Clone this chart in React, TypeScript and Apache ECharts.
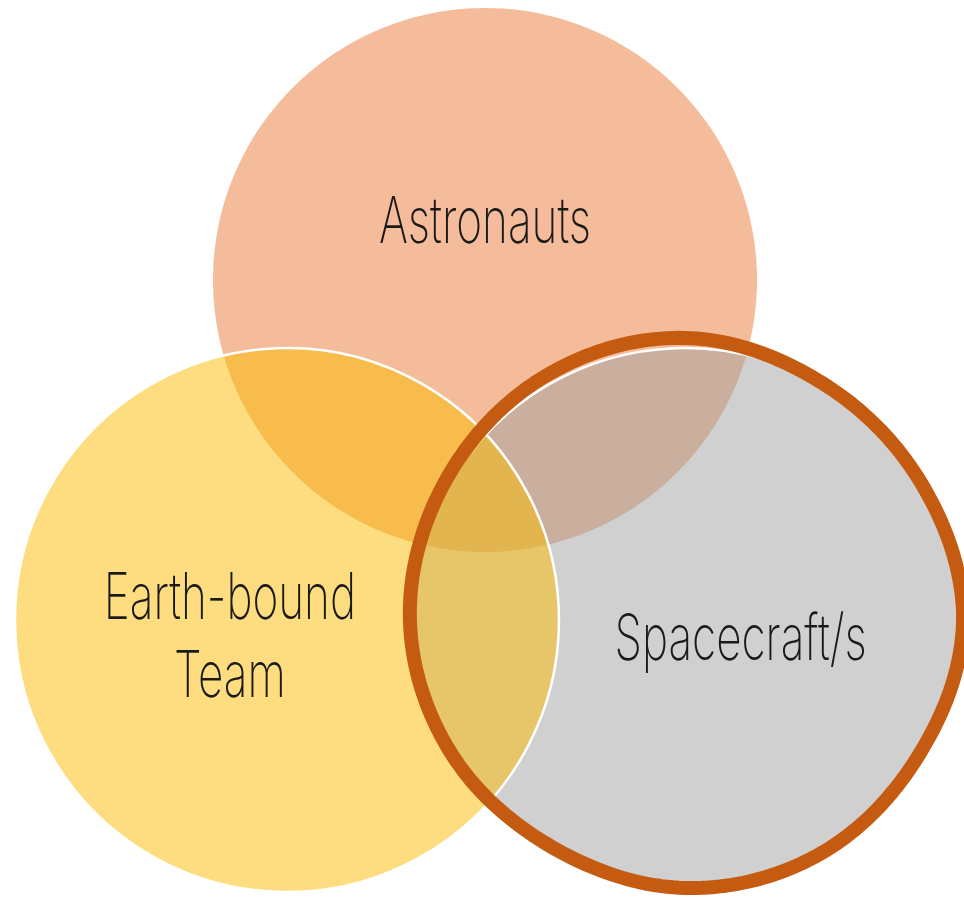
import React, { useEffect, useRef } from "react";
import * as echarts from "echarts";

// Venn sets (layout in units of one circle radius)
const setNames = ["Astronauts", "Earth-bound\nTeam", "Spacecraft/s"];
const setCenterX = [0, -0.728, 0.735];
const setCenterY = [0, 1.25, 1.25];
const setRadius = [1, 1, 1];
const setColors = ["rgba(233,121,53,0.5)", "rgba(251,187,0,0.5)", "rgba(161,161,161,0.5)"];
const setStroke = [0, 2.5, 2.5];
const drawRank = [1, 3, 2];
const labelDx = [0, -0.21, 0.205];
const labelDy = [-0.22, 0.055, 0.062];

// hand-drawn highlight around "Spacecraft/s": radius (relative to the circle) every 30°, clockwise from 3 o'clock
const highlightSet = 2;
const highlightAngles = [0, 30, 60, 90, 120, 150, 180, 210, 240, 270, 300, 330];
const highlightScale = [1.022, 0.993, 0.993, 0.985, 0.967, 0.989, 1.011, 1.018, 1.033, 1.037, 1.007, 1.004];

const W = 964;
const H = 897;
const UNIT = 272;
const ORIGIN_X = 485;
const ORIGIN_Y = 280;

function periodicSpline(vals: number[], idx: number, t: number): number {
  const n = vals.length;
  const a = vals[(idx - 1 + n) % n];
  const b = vals[idx % n];
  const c = vals[(idx + 1) % n];
  const d = vals[(idx + 2) % n];
  const t2 = t * t;
  const t3 = t2 * t;
  return 0.5 * (2 * b + (-a + c) * t + (2 * a - 5 * b + 4 * c - d) * t2 + (-a + 3 * b - 3 * c + d) * t3);
}

function highlightPoints(cx: number, cy: number, r: number): number[][] {
  const pts: number[][] = [];
  const n = highlightAngles.length;
  const steps = 24;
  for (let i = 0; i < n; i++) {
    for (let s = 0; s < steps; s++) {
      const t = s / steps;
      const ang = ((highlightAngles[i] + 30 * t) * Math.PI) / 180;
      const k = periodicSpline(highlightScale, i, t);
      pts.push([cx + r * k * Math.cos(ang), cy + r * k * Math.sin(ang)]);
    }
  }
  return pts;
}

export default function App() {
  const ref = useRef<HTMLDivElement>(null);
  useEffect(() => {
    if (!ref.current) return;
    const chart = echarts.init(ref.current, undefined, { renderer: "svg" });
    const fontSize = 64;
    const font = `200 ${fontSize}px Inter, Roboto, sans-serif`;
    const ctx = document.createElement("canvas").getContext("2d");
    let sx = 0.62;
    if (ctx) {
      ctx.font = font;
      const w = ctx.measureText("Astronauts").width;
      if (w > 0) sx = 212 / w;
    }
    const data = setNames.map((n, i) => [setCenterX[i], setCenterY[i], setRadius[i], i]);
    chart.setOption({
      animation: false,
      grid: { left: 0, right: 0, top: 0, bottom: 0 },
      xAxis: { type: "value", show: false, min: -ORIGIN_X / UNIT, max: (W - ORIGIN_X) / UNIT },
      yAxis: { type: "value", show: false, inverse: true, min: -ORIGIN_Y / UNIT, max: (H - ORIGIN_Y) / UNIT },
      series: [
        {
          type: "custom",
          clip: false,
          data,
          encode: { x: 0, y: 1 },
          renderItem: (params: any, api: any) => {
            const i = api.value(3);
            const c = api.coord([api.value(0), api.value(1)]);
            const r = api.size([api.value(2), 0])[0];
            const lp = api.coord([api.value(0) + labelDx[i], api.value(1) + labelDy[i]]);
            const children: any[] = [
              {
                type: "circle",
                shape: { cx: c[0], cy: c[1], r },
                style: {
                  fill: setColors[i],
                  stroke: setStroke[i] > 0 ? "#ffffff" : null,
                  lineWidth: setStroke[i],
                },
                z2: drawRank[i],
              },
              {
                type: "text",
                x: lp[0],
                y: lp[1],
                scaleX: sx,
                style: {
                  text: setNames[i],
                  font,
                  fill: "#1a1a1a",
                  align: "center",
                  verticalAlign: "middle",
                  lineHeight: 78,
                },
                z2: 100,
              },
            ];
            if (i === highlightSet) {
              children.push({
                type: "polygon",
                shape: { points: highlightPoints(c[0], c[1], r) },
                style: { fill: null, stroke: "#C55A11", lineWidth: 14, lineJoin: "round" },
                z2: 200,
              });
            }
            return { type: "group", children };
          },
        },
      ],
    });
    return () => chart.dispose();
  }, []);
  return (
    <div
      ref={ref}
      style={{ position: "fixed", left: 0, top: 0, width: W, height: H, background: "#ffffff" }}
    />
  );
}
